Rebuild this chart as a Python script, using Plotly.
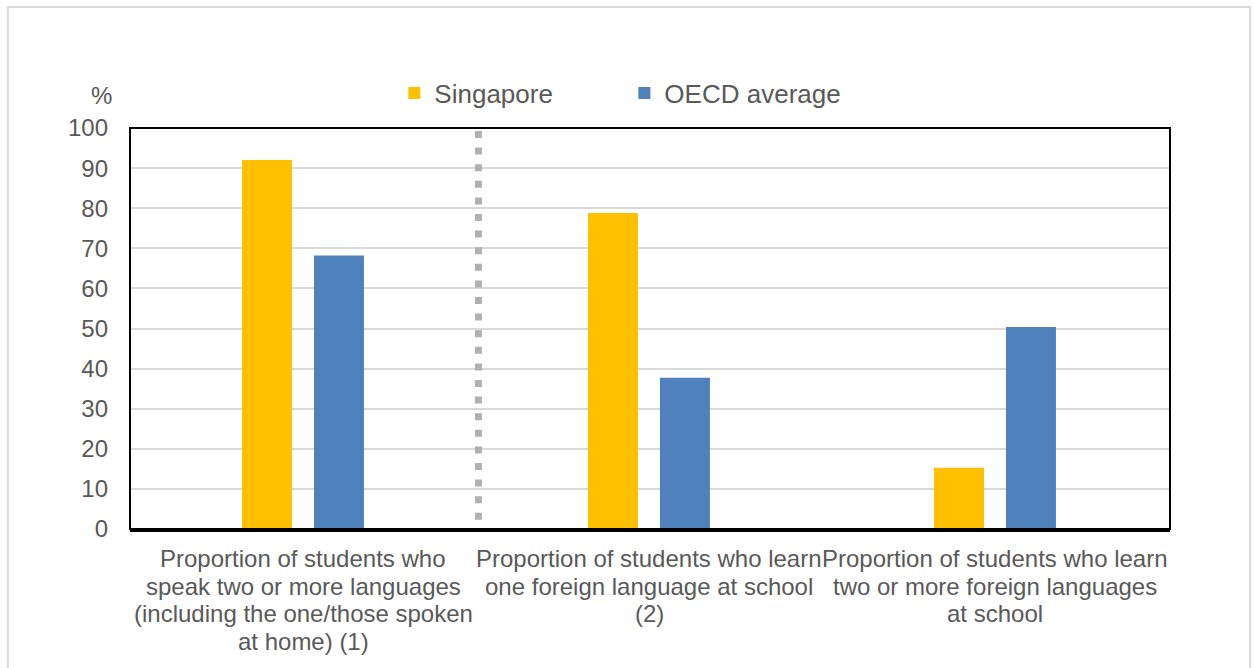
import plotly.graph_objects as go

# Chart data
categories = [
    "Proportion of students who<br>speak two or more languages<br>(including the one/those spoken<br>at home) (1)",
    "Proportion of students who learn<br>one foreign language at school<br>(2)",
    "Proportion of students who learn<br>two or more foreign languages<br>at school",
]
singapore = [92.0, 78.8, 15.3]
oecd_average = [68.2, 37.7, 50.4]
y_ticks = [0, 10, 20, 30, 40, 50, 60, 70, 80, 90, 100]

FONT = "Liberation Sans, Arial, sans-serif"
GREY_TEXT = "#595959"
LABEL_SIZE = 24
LINE_STEP = 27.7      # px between category label lines
FIRST_LINE = 29.4     # px from the axis to the centre of the first label line

fig = go.Figure()
fig.add_trace(go.Bar(name="Singapore", x=categories, y=singapore,
                     marker=dict(color="#FFC000", line=dict(width=0))))
fig.add_trace(go.Bar(name="OECD average", x=categories, y=oecd_average,
                     marker=dict(color="#4F81BD", line=dict(width=0))))

# Category labels, one annotation per line for tighter line spacing
annotations = []
for cat in categories:
    for i, line in enumerate(cat.split("<br>")):
        annotations.append(dict(
            text=line, x=cat, xref="x", y=0, yref="paper",
            xanchor="center", yanchor="middle",
            yshift=-(FIRST_LINE + i * LINE_STEP), showarrow=False,
            font=dict(size=LABEL_SIZE, color=GREY_TEXT)))

annotations.append(dict(text="%", xref="paper", yref="paper", x=-0.027, y=1.08,
                        xanchor="center", yanchor="middle", showarrow=False,
                        font=dict(size=LABEL_SIZE, color=GREY_TEXT)))

fig.update_layout(
    width=1254, height=668,
    margin=dict(l=130, r=84, t=128, b=139),
    paper_bgcolor="white", plot_bgcolor="white",
    font=dict(family=FONT, size=LABEL_SIZE, color=GREY_TEXT),
    barmode="group", bargap=0.584, bargroupgap=0.306,
    showlegend=True,
    legend=dict(orientation="h", x=0.2542, xanchor="left", y=1.087, yanchor="middle",
                font=dict(size=26, color=GREY_TEXT), entrywidth=185,
                bgcolor="rgba(0,0,0,0)", traceorder="normal"),
    xaxis=dict(showgrid=False, showline=True, linecolor="black", linewidth=3,
               ticks="", showticklabels=False, fixedrange=True),
    yaxis=dict(range=[0, 100], tickvals=y_ticks, showgrid=True, gridcolor="#D9D9D9",
               gridwidth=1.5, zeroline=False, showline=False, ticks="",
               tickfont=dict(size=LABEL_SIZE, color=GREY_TEXT), ticklabelstandoff=21),
    shapes=[
        # plot frame
        dict(type="rect", xref="paper", yref="paper", x0=0, x1=1, y0=0, y1=1,
             line=dict(color="black", width=2), layer="above"),
        # separator between the first group and the others
        dict(type="line", xref="x", yref="paper", x0=0.507, x1=0.507, y0=0.9925, y1=0.0175,
             line=dict(color="#B0B0B0", width=7, dash="7px,9.6px"), layer="above"),
        # outer chart border
        dict(type="rect", xref="paper", yref="paper",
             x0=-0.1174, x1=1.077, y0=-0.4, y1=1.3017,
             line=dict(color="#D9D9D9", width=2)),
    ],
    annotations=annotations,
)

fig.write_html("out.html")
